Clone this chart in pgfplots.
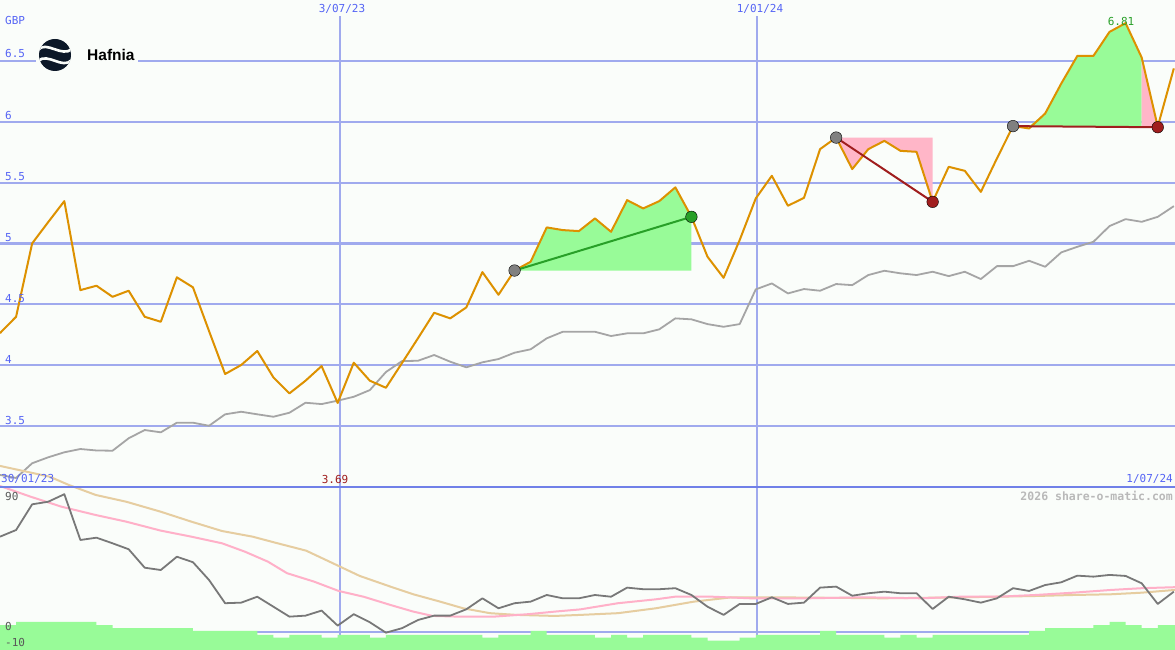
\documentclass[border=0pt]{standalone}
\usepackage{pgfplots}
\usepackage{pgfplotstable}
\pgfplotsset{compat=1.18}
\usepackage{fontspec}
\setmainfont{DejaVu Sans Mono}
\newfontfamily\hsans{Liberation Sans}
\definecolor{bg}{RGB}{250,253,250}
\definecolor{gridc}{RGB}{160,170,238}
\definecolor{divc}{RGB}{112,128,232}
\definecolor{lab}{RGB}{85,100,245}
\definecolor{pricec}{RGB}{221,145,0}
\definecolor{mac}{RGB}{165,165,165}
\definecolor{oscc}{RGB}{120,120,120}
\definecolor{pinkl}{RGB}{255,176,200}
\definecolor{tanl}{RGB}{230,205,160}
\definecolor{gfill}{RGB}{152,251,152}
\definecolor{pfill}{RGB}{255,182,200}
\definecolor{gline}{RGB}{40,160,40}
\definecolor{rline}{RGB}{160,30,30}
\definecolor{dotg}{RGB}{128,128,128}
\definecolor{navy}{RGB}{12,24,40}
\definecolor{wm}{RGB}{185,185,185}

\pgfplotstableread{
i p ma
0 4.264 3.099
1 4.398 3.074
2 5.001 3.195
3 5.176 3.244
4 5.348 3.285
5 4.617 3.312
6 4.653 3.300
7 4.562 3.298
8 4.612 3.400
9 4.398 3.468
10 4.357 3.449
11 4.722 3.528
12 4.640 3.528
13 4.281 3.503
14 3.928 3.597
15 4.002 3.618
16 4.117 3.597
17 3.901 3.577
18 3.769 3.610
19 3.873 3.692
20 3.993 3.681
21 3.690 3.709
22 4.021 3.741
23 3.873 3.796
24 3.815 3.944
25 4.018 4.034
26 4.223 4.037
27 4.431 4.084
28 4.385 4.029
29 4.475 3.983
30 4.765 4.024
31 4.579 4.051
32 4.778 4.103
33 4.850 4.131
34 5.132 4.221
35 5.110 4.275
36 5.102 4.275
37 5.206 4.275
38 5.096 4.240
39 5.356 4.262
40 5.288 4.262
41 5.348 4.295
42 5.461 4.385
43 5.219 4.377
44 4.891 4.338
45 4.718 4.316
46 5.028 4.338
47 5.370 4.623
48 5.556 4.672
49 5.310 4.590
50 5.375 4.626
51 5.775 4.612
52 5.870 4.667
53 5.611 4.658
54 5.775 4.741
55 5.843 4.776
56 5.761 4.755
57 5.753 4.741
58 5.342 4.768
59 5.630 4.732
60 5.597 4.768
61 5.424 4.708
62 5.699 4.814
63 5.964 4.814
64 5.945 4.858
65 6.068 4.809
66 6.314 4.927
67 6.541 4.973
68 6.541 5.014
69 6.738 5.143
70 6.810 5.200
71 6.528 5.178
72 5.960 5.219
73 6.438 5.307
}\pricetab

\pgfplotstableread{
i o
0 66.0
1 70.6
2 88.4
3 90.2
4 95.4
5 63.7
6 65.3
7 61.4
8 57.3
9 44.5
10 42.9
11 52.1
12 48.3
13 36.0
14 19.9
15 20.3
16 24.4
17 17.5
18 10.6
19 11.3
20 14.8
21 4.4
22 12.3
23 6.7
24 -0.5
25 2.6
26 8.3
27 11.3
28 11.3
29 15.7
30 23.3
31 16.4
32 19.9
33 21.0
34 25.6
35 23.3
36 23.3
37 25.6
38 24.4
39 30.7
40 29.6
41 29.6
42 30.3
43 25.6
44 17.5
45 11.8
46 19.4
47 19.4
48 24.0
49 19.4
50 20.3
51 30.7
52 31.4
53 25.1
54 26.8
55 27.9
56 26.8
57 26.8
58 15.9
59 24.4
60 22.6
61 20.3
62 23.3
63 30.3
64 28.4
65 32.5
66 34.4
67 39.0
68 38.3
69 39.5
70 38.8
71 33.7
72 19.4
73 27.9
}\osctab

\pgfplotstableread{
x v
0 101.1
1.90 93.7
3.81 86.8
5.95 81.0
7.85 76.4
9.99 70.2
11.90 66.0
13.81 61.4
15.23 55.6
16.66 48.7
17.85 40.7
19.52 34.9
21.06 28.4
22.61 24.4
24.28 18.7
25.70 14.1
26.90 11.1
28.56 10.6
30.70 10.6
32.84 12.3
34.51 14.1
36.07 15.6
38.43 19.9
40.79 22.6
41.97 24.4
44.33 24.4
46.69 23.3
50.23 23.3
53.77 24.0
57.31 23.3
59.67 24.4
62.03 24.4
64.39 25.6
66.75 27.2
69.11 29.1
71.00 30.3
73.07 31.0
}\pinktab

\pgfplotstableread{
x v
0 115.0
3.10 107.5
4.28 101.8
5.95 94.9
7.85 90.2
9.99 83.3
11.90 76.4
13.81 69.9
15.71 66.0
17.13 61.8
19.04 56.3
21.06 45.7
22.37 38.8
24.28 31.4
25.70 26.1
27.37 21.0
28.80 16.4
30.47 13.0
32.13 11.8
34.51 11.1
36.07 11.8
38.43 13.0
40.79 16.4
43.15 21.0
45.51 24.0
47.87 24.0
50.23 23.8
54.95 23.3
58.49 23.8
62.03 24.4
64.39 24.9
66.75 25.6
69.11 26.1
71.00 27.2
73.07 29.1
}\tantab

\begin{document}
\begin{tikzpicture}[x=1pt,y=1pt]
\useasboundingbox (0,0) rectangle (1175,650);
\clip (0,0) rectangle (1175,650);
\fill[bg] (0,0) rectangle (1175,650);
\draw[gridc, line width=2.4pt] (340,0) -- (340,634);
\draw[gridc, line width=1.2pt] (757,0) -- (757,634);

\begin{axis}[at={(0pt,163pt)}, anchor=south west, scale only axis,
  width=1175pt, height=487pt, xmin=0, xmax=73.07, ymin=3, ymax=7,
  axis line style={draw=none}, tick style={draw=none},
  xtick=\empty, ytick={3.5,4,4.5,5,5.5,6,6.5}, yticklabels={},
  ymajorgrids, grid style={gridc, line width=2.2pt},
  every axis plot/.append style={no marks}]
% shaded regions
\addplot[fill=gfill, draw=none] coordinates {(32,4.778) (33,4.850) (34,5.132) (35,5.110) (36,5.102) (37,5.206) (38,5.096) (39,5.356) (40,5.288) (41,5.348) (42,5.461) (43,5.219) (43,4.778)};
\addplot[fill=pfill, draw=none] coordinates {(52,5.870) (53,5.611) (54,5.775) (55,5.843) (56,5.761) (57,5.753) (58,5.342) (58,5.870)};
\addplot[fill=gfill, draw=none] coordinates {(63,5.964) (64,5.964) (65,6.068) (66,6.314) (67,6.541) (68,6.541) (69,6.738) (70,6.810) (71,6.528) (71,5.964)};
\addplot[fill=pfill, draw=none] coordinates {(71,5.964) (71,6.528) (72,5.960)};
% moving average and price
\addplot[mac, line width=1.8pt, line join=round] table[x=i, y=ma] {\pricetab};
\addplot[pricec, line width=2pt, line join=round] table[x=i, y=p] {\pricetab};
% trend lines
\addplot[gline, line width=2pt] coordinates {(32,4.778) (43,5.219)};
\addplot[rline, line width=2pt] coordinates {(52,5.870) (58,5.342)};
\addplot[rline, line width=2pt] coordinates {(63,5.964) (72,5.955)};
% dots
\addplot[only marks, mark=*, mark size=5.8pt, mark options={fill=dotg, draw=none}] coordinates {(32,4.778) (52,5.870) (63,5.964)};
\addplot[only marks, mark=*, mark size=5.8pt, mark options={fill=gline, draw=none}] coordinates {(43,5.219)};
\addplot[only marks, mark=*, mark size=5.8pt, mark options={fill=rline, draw=none}] coordinates {(58,5.342) (72,5.955)};
\end{axis}

\begin{axis}[at={(0pt,0pt)}, anchor=south west, scale only axis,
  width=1175pt, height=163pt, xmin=0, xmax=73.07, ymin=-12.5, ymax=100.4,
  clip=false,
  axis line style={draw=none}, tick style={draw=none},
  xtick=\empty, ytick={0}, yticklabels={},
  ymajorgrids, grid style={gridc, line width=2pt},
  every axis plot/.append style={no marks}]
\addplot[fill=gfill, draw=none, const plot] coordinates {(0,-12.5) (0,4.8) (1,6.9) (6,4.8) (7,2.6) (12,0.7) (16,-2.1) (17,-3.9) (18,-2.1) (20,-3.9) (21,-2.1) (23,-3.9) (24,-2.1) (30,-3.9) (31,-2.1) (33,0.7) (34,-2.1) (37,-3.9) (38,-2.1) (39,-3.9) (40,-2.1) (43,-3.9) (44,-6.0) (46,-3.9) (47,-2.1) (51,0.7) (52,-2.1) (55,-3.9) (56,-2.1) (57,-3.9) (58,-2.1) (64,0.7) (65,2.6) (68,4.8) (69,6.9) (70,4.8) (71,2.6) (72,4.8) (73.07,4.8) (73.07,-12.5)};
\addplot[tanl, line width=2pt, line join=round] table[x=x, y=v] {\tantab};
\addplot[pinkl, line width=2pt, line join=round] table[x=x, y=v] {\pinktab};
\addplot[oscc, line width=1.8pt, line join=round] table[x=i, y=o] {\osctab};
\end{axis}

% divider
\draw[divc, line width=2.2pt] (0,163) -- (1175,163);

% logo box
\fill[bg] (36,577) rectangle (138,613);
\fill[navy] (55,595) circle (16);
\begin{scope}
\clip (55,595) circle (16);
\draw[bg, line width=2.6pt] (38,600) .. controls (46,610) and (62,592) .. (72,601);
\draw[bg, line width=2.6pt] (38,589) .. controls (48,598) and (62,580) .. (72,590);
\end{scope}
\node[anchor=west, inner sep=0pt, font=\hsans\bfseries\fontsize{15.5}{18}\selectfont] at (87,595) {Hafnia};

% axis labels
\begin{scope}[every node/.style={inner sep=0pt, font=\fontsize{11}{13}\selectfont}]
\node[lab, anchor=west] at (5,629.3) {GBP};
\node[lab, anchor=west] at (5,596) {6.5};
\node[lab, anchor=west] at (5,534) {6};
\node[lab, anchor=west] at (5,473.3) {5.5};
\node[lab, anchor=west] at (5,412.7) {5};
\node[lab, anchor=west] at (5,351.7) {4.5};
\node[lab, anchor=west] at (5,290.7) {4};
\node[lab, anchor=west] at (5,230) {3.5};
\node[lab] at (342,641) {3/07/23};
\node[lab] at (760,641) {1/01/24};
\node[lab, anchor=west] at (1,171) {30/01/23};
\node[rline] at (335,171) {3.69};
\node[lab, anchor=east] at (1173,171) {1/07/24};
\node[gline] at (1121,628.3) {6.81};
\node[black!65, anchor=west] at (5,154) {90};
\node[black!65, anchor=west] at (5,24) {0};
\node[black!65, anchor=west] at (5,8) {-10};
\node[wm, anchor=east, font=\bfseries\fontsize{11.5}{13}\selectfont] at (1173,154) {2026 share-o-matic.com};
\end{scope}
\end{tikzpicture}
\end{document}
